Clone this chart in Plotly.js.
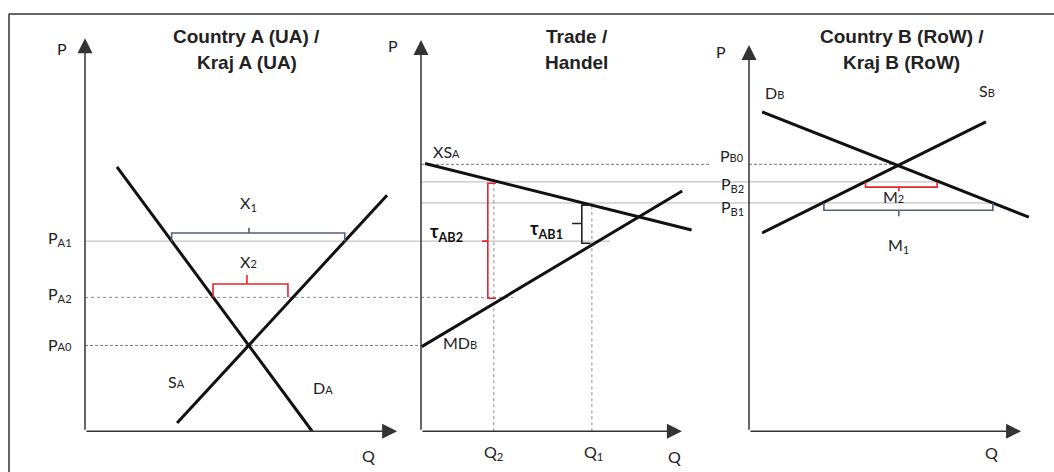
<!DOCTYPE html>
<html>
<head>
<meta charset="utf-8">
<script src="https://cdn.plot.ly/plotly-3.0.1.min.js"></script>
<style>
  html, body { margin: 0; padding: 0; background: #fff; }
  #chart { width: 1054px; height: 472px; }
</style>
</head>
<body>
<div id="chart"></div>
<script>
// price levels (one vertical scale shared by the three panels)
var pA0 = 2.0, pA2 = 3.12, pA1 = 4.43
var pB1 = 5.32, pB2 = 5.81, pB0 = 6.22

// Country A: demand and supply
var dA_q = [0.95, 6.76], dA_p = [6.16, 0]
var sA_q = [2.74, 8.99], sA_p = [0.19, 5.50]
// Trade: excess supply of A, import demand of B
var xsA_q = [0.12, 8.06], xsA_p = [6.24, 4.69]
var mdB_q = [0.02, 7.78], mdB_p = [1.97, 5.60]
var tradeQ = [2.17, 5.09]          // Q2, Q1
var tradeQLabels = ['Q<sub>2</sub>', 'Q<sub>1</sub>']
// Country B: demand and supply
var dB_q = [0.39, 8.33], dB_p = [7.44, 4.99]
var sB_q = [0.39, 7.05], sB_p = [4.62, 7.21]

// brackets: from, to, tip, base, bar, tip end
var braceX1 = [2.58, 7.73, 4.88, pA1, 4.62, 4.74]
var braceX2 = [3.81, 6.04, 4.82, pA2, 3.43, 3.64]
var braceM2 = [3.47, 5.60, 4.46, pB2, 5.69, 5.59]
var braceM1 = [2.23, 7.26, 4.46, pB1, 5.15, 5.01]
var braceT2 = [5.78, 3.10, 4.43, 2.23, 1.99, 1.82]   // y from, y to, y tip, x base, x bar, x tip
var braceT1 = [5.27, 4.38, 4.84, 5.05, 4.79, 4.50]

var titleA = ['Country A (UA) /', 'Kraj A (UA)']
var titleB = ['Trade /', 'Handel']
var titleC = ['Country B (RoW) /', 'Kraj B (RoW)']

var blue = '#52627a', red = '#e3262c', ink = '#111', axisCol = '#333'
var lblFont = {family: 'Lato, "Open Sans", sans-serif', size: 16, color: '#222'}
var tauFont = {family: 'Lato, "Open Sans", sans-serif', size: 18, color: '#111'}
var titleFont = {family: '"Liberation Sans", Arial, sans-serif', size: 19, color: '#222'}

// small same-baseline index, as in "S A" / "P B0"
function sm(t){ return '<span style="font-size:11px">' + t + '</span>' }

function curve(q, p, xa){
    return {x: q, y: p, xaxis: xa, yaxis: 'y', mode: 'lines', hoverinfo: 'skip',
            line: {color: ink, width: 3}}
}
function hline(p, from, to, xa, style){
    return {x: [from, to], y: [p, p], xaxis: xa, yaxis: 'y', mode: 'lines', hoverinfo: 'skip',
            line: style}
}
function hBrace(b, xa, color){
    return {x: [b[0], b[0], b[2], b[2], b[2], b[1], b[1]],
            y: [b[3], b[4], b[4], b[5], b[4], b[4], b[3]],
            xaxis: xa, yaxis: 'y', mode: 'lines', hoverinfo: 'skip',
            line: {color: color, width: 1.6}}
}
function vBrace(b, xa, color){
    return {x: [b[3], b[4], b[4], b[5], b[4], b[4], b[3]],
            y: [b[0], b[0], b[2], b[2], b[2], b[1], b[1]],
            xaxis: xa, yaxis: 'y', mode: 'lines', hoverinfo: 'skip',
            line: {color: color, width: 1.6}}
}

var solidGrey = {color: '#b4b4b4', width: 1}
var dotGrey = {color: '#8a8a8a', width: 1, dash: 'dot'}
var dashGrey = {color: '#7a7a7a', width: 1, dash: '3px,2px'}

var traces = [
    // reference price lines
    hline(pA1, 0, 10, 'x', solidGrey), hline(pA1, 0, 5.63, 'x2', solidGrey),
    hline(pA2, 0, 10, 'x', dotGrey), hline(pA2, 0, 2.74, 'x2', dotGrey),
    hline(pA0, 0, 10, 'x', dashGrey),
    hline(pB0, 0, 8.60, 'x2', dashGrey), hline(pB0, 0, 4.46, 'x3', dashGrey),
    hline(pB2, 0, 9.77, 'x2', solidGrey), hline(pB2, 0, 5.67, 'x3', solidGrey),
    hline(pB1, 0, 9.77, 'x2', solidGrey), hline(pB1, 0, 7.26, 'x3', solidGrey),
    {x: [tradeQ[0], tradeQ[0]], y: [0, pB2], xaxis: 'x2', yaxis: 'y', mode: 'lines',
     hoverinfo: 'skip', line: dotGrey},
    {x: [tradeQ[1], tradeQ[1]], y: [0, pB1], xaxis: 'x2', yaxis: 'y', mode: 'lines',
     hoverinfo: 'skip', line: dotGrey},
    // curves
    curve(dA_q, dA_p, 'x'), curve(sA_q, sA_p, 'x'),
    curve(xsA_q, xsA_p, 'x2'), curve(mdB_q, mdB_p, 'x2'),
    curve(dB_q, dB_p, 'x3'), curve(sB_q, sB_p, 'x3'),
    // brackets
    hBrace(braceX1, 'x', blue), hBrace(braceX2, 'x', red),
    hBrace(braceM2, 'x3', red), hBrace(braceM1, 'x3', blue),
    vBrace(braceT2, 'x2', red), vBrace(braceT1, 'x2', '#222')
]

function lbl(text, x, y, xa, extra){
    var a = {text: text, x: x, y: y, xref: xa, yref: 'y', showarrow: false,
             font: lblFont, xanchor: 'center', yanchor: 'middle'}
    for (var k in extra) a[k] = extra[k]
    return a
}
function axisArrow(xa, x, y){
    return {x: x, y: y, ax: 0, ay: 0, xref: xa, yref: 'y', axref: xa, ayref: 'y',
            text: '', showarrow: true, arrowhead: 2, arrowsize: 2, arrowwidth: 1.5,
            arrowcolor: axisCol, standoff: 0, startstandoff: 0}
}

var ann = [
    axisArrow('x', 0, 9.16), axisArrow('x', 9.29, 0),
    axisArrow('x2', 0, 9.12), axisArrow('x2', 7.77, 0),
    axisArrow('x3', 0, 9.0), axisArrow('x3', 8.10, 0),

    lbl('<b>' + titleA[0] + '</b>', 4.82, 9.19, 'x', {font: titleFont}),
    lbl('<b>' + titleA[1] + '</b>', 4.82, 8.60, 'x', {font: titleFont}),
    lbl('<b>' + titleB[0] + '</b>', 4.64, 9.19, 'x2', {font: titleFont}),
    lbl('<b>' + titleB[1] + '</b>', 4.64, 8.60, 'x2', {font: titleFont}),
    lbl('<b>' + titleC[0] + '</b>', 4.55, 9.19, 'x3', {font: titleFont}),
    lbl('<b>' + titleC[1] + '</b>', 4.55, 8.60, 'x3', {font: titleFont}),

    // panel A
    lbl('P', 0, 8.93, 'x', {xshift: -23}),
    lbl('P<sub>A1</sub>', 0, 4.50, 'x', {xanchor: 'right', xshift: -11}),
    lbl('P<sub>A2</sub>', 0, 3.19, 'x', {xanchor: 'right', xshift: -11}),
    lbl('P' + sm('A0'), 0, 2.03, 'x', {xanchor: 'right', xshift: -11}),
    lbl('X<sub>1</sub>', 4.88, 5.31, 'x'),
    lbl('X' + sm('2'), 4.88, 3.96, 'x'),
    lbl('S' + sm('A'), 2.71, 1.15, 'x'),
    lbl('D' + sm('A'), 7.08, 1.03, 'x'),
    lbl('Q', 8.45, -0.56, 'x'),

    // trade panel
    lbl('P', 0, 9.0, 'x2', {xshift: -28}),
    lbl('XS' + sm('A'), 0.77, 6.51, 'x2'),
    lbl('MD' + sm('B'), 1.16, 2.06, 'x2'),
    lbl('<b>τ<sub>AB2</sub></b>', 0.77, 4.64, 'x2', {font: tauFont}),
    lbl('<b>τ<sub>AB1</sub></b>', 3.75, 4.71, 'x2', {font: tauFont}),
    lbl(tradeQLabels[0], tradeQ[0], -0.49, 'x2'),
    lbl(tradeQLabels[1], tradeQ[1] + 0.06, -0.49, 'x2'),
    lbl('Q', 7.56, -0.60, 'x2'),

    // panel B
    lbl('P', 0, 8.84, 'x3', {xshift: -28}),
    lbl('D' + sm('B'), 0.77, 7.90, 'x3'),
    lbl('S' + sm('B'), 7.08, 7.95, 'x3'),
    lbl('P' + sm('B0'), 0, 6.43, 'x3', {xanchor: 'right', xshift: -3}),
    lbl('P<sub>B2</sub>', 0, 5.76, 'x3', {xanchor: 'right', xshift: -3}),
    lbl('P<sub>B1</sub>', 0, 5.22, 'x3', {xanchor: 'right', xshift: -3}),
    lbl('M' + sm('2'), 4.29, 5.46, 'x3'),
    lbl('M<sub>1</sub>', 4.46, 4.34, 'x3'),
    lbl('Q', 7.23, -0.49, 'x3')
]

var W = 1054, H = 472
var layout = {
    width: W, height: H,
    margin: {l: 0, r: 0, t: 0, b: 0, pad: 0},
    paper_bgcolor: '#fff', plot_bgcolor: 'rgba(0,0,0,0)',
    showlegend: false,
    xaxis: {domain: [85 / W, 421 / W], range: [0, 10], visible: false, fixedrange: true, anchor: 'y'},
    xaxis2: {domain: [421 / W, 749 / W], range: [0, 9.77], visible: false, fixedrange: true, anchor: 'y'},
    xaxis3: {domain: [749 / W, 1], range: [0, 9.08], visible: false, fixedrange: true, anchor: 'y'},
    yaxis: {domain: [0, 1], range: [-0.95, 10.05], visible: false, fixedrange: true, anchor: 'x'},
    annotations: ann,
    shapes: [
        {type: 'line', xref: 'paper', yref: 'paper', x0: 9 / W, x1: 1, y0: 1 - 14 / H, y1: 1 - 14 / H,
         line: {color: '#333', width: 1.5}},
        {type: 'line', xref: 'paper', yref: 'paper', x0: 9 / W, x1: 9 / W, y0: 0, y1: 1 - 14 / H,
         line: {color: '#333', width: 1.5}}
    ]
}

Plotly.newPlot('chart', traces, layout, {staticPlot: true, displayModeBar: false})
</script>
</body>
</html>
